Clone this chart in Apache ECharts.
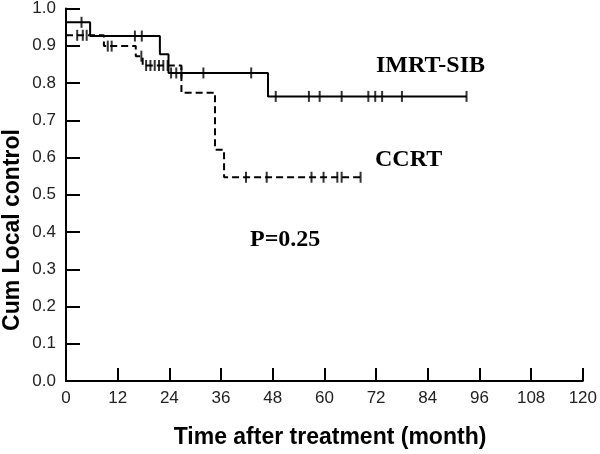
<!DOCTYPE html>
<html><head><meta charset="utf-8">
<script src="https://cdn.jsdelivr.net/npm/echarts@6/dist/echarts.min.js"></script>
<style>html,body{margin:0;padding:0;background:#fff}#c{width:600px;height:454px}</style>
</head><body><div id="c"></div>
<script>
// ---- data ----
const xTickValues = [0, 12, 24, 36, 48, 60, 72, 84, 96, 108, 120];
const yTickValues = [0, 0.1, 0.2, 0.3, 0.4, 0.5, 0.6, 0.7, 0.8, 0.9, 1.0];

// IMRT-SIB: step points (time of change, survival after change)
const imrtTimes  = [0, 5.6, 21.8, 23.8, 46.9, 93];
const imrtValues = [0.963, 0.926, 0.877, 0.827, 0.764, 0.764];
const imrtCensor = [3.6, 16, 17.6, 24.4, 25.6, 26.8, 31.9, 43, 48.7, 56.4, 58.9, 64, 70.2, 71.8, 73.4, 78, 93];

// CCRT
const ccrtTimes  = [0, 8.8, 16.2, 17.8, 26.8, 34.6, 36.7, 68.4];
const ccrtValues = [0.928, 0.899, 0.872, 0.847, 0.774, 0.621, 0.547, 0.547];
const ccrtCensor = [2.6, 3.9, 4.8, 9.7, 10.6, 17.5, 18.6, 19.6, 20.6, 21.6, 22.6, 23.6, 41.8, 46.6, 57, 59.8, 63, 64, 68.4];

function stepValue(times, values, t) {
  let v = values[0];
  for (let i = 0; i < times.length; i++) { if (times[i] <= t) v = values[i]; }
  return v;
}
const pair = (ts, vs) => ts.map((t, i) => [t, vs[i]]);
const censorPts = (cs, ts, vs) => cs.map(t => [t, stepValue(ts, vs, t)]);

const chart = echarts.init(document.getElementById('c'), null, {renderer: 'canvas'});
const labelFont = {fontFamily: 'Liberation Sans', fontSize: 17, color: '#222'};
chart.setOption({
  animation: false,
  backgroundColor: '#fff',
  grid: {left: 66, right: 14, top: 7, bottom: 73, containLabel: false},
  xAxis: {
    type: 'value', min: 0, max: 120, interval: 12,
    axisLine: {lineStyle: {color: '#000', width: 2}},
    axisTick: {inside: true, length: 13, lineStyle: {color: '#000', width: 2}},
    axisLabel: Object.assign({margin: 9, formatter: v => xTickValues.includes(v) ? String(v) : ''}, labelFont),
    splitLine: {show: false}
  },
  yAxis: {
    type: 'value', min: 0, max: 1, interval: 0.1,
    axisLine: {show: true, lineStyle: {color: '#000', width: 2}},
    axisTick: {show: true, inside: true, length: 14, lineStyle: {color: '#000', width: 2}},
    axisLabel: Object.assign({margin: 10, formatter: v => v.toFixed(1)}, labelFont),
    splitLine: {show: false}
  },
  series: [
    {type: 'line', step: 'end', data: pair(imrtTimes, imrtValues), symbol: 'none',
     lineStyle: {color: '#000', width: 2}},
    {type: 'line', step: 'end', data: pair(ccrtTimes, ccrtValues), symbol: 'none',
     lineStyle: {color: '#000', width: 2, type: [7, 4]}},
    {type: 'scatter', data: censorPts(imrtCensor, imrtTimes, imrtValues), symbol: 'rect',
     symbolSize: [2, 11], itemStyle: {color: '#000'}},
    {type: 'scatter', data: censorPts(ccrtCensor, ccrtTimes, ccrtValues), symbol: 'rect',
     symbolSize: [2, 11], itemStyle: {color: '#000'}}
  ],
  graphic: [
    {type: 'text', left: 376, top: 54, style: {text: 'IMRT-SIB', font: 'bold 24px "Liberation Serif"', fill: '#000'}},
    {type: 'text', left: 375, top: 148, style: {text: 'CCRT', font: 'bold 24px "Liberation Serif"', fill: '#000'}},
    {type: 'text', left: 250, top: 228, style: {text: 'P=0.25', font: 'bold 24px "Liberation Serif"', fill: '#000'}},
    {type: 'text', x: 330, y: 438, style: {text: 'Time after treatment (month)', font: 'bold 23px "Liberation Sans"', fill: '#000', align: 'center', verticalAlign: 'middle'}},
    {type: 'text', x: 13, y: 230, rotation: Math.PI / 2, style: {text: 'Cum Local control', font: 'bold 23px "Liberation Sans"', fill: '#000', align: 'center', verticalAlign: 'middle'}}
  ]
});
</script></body></html>
